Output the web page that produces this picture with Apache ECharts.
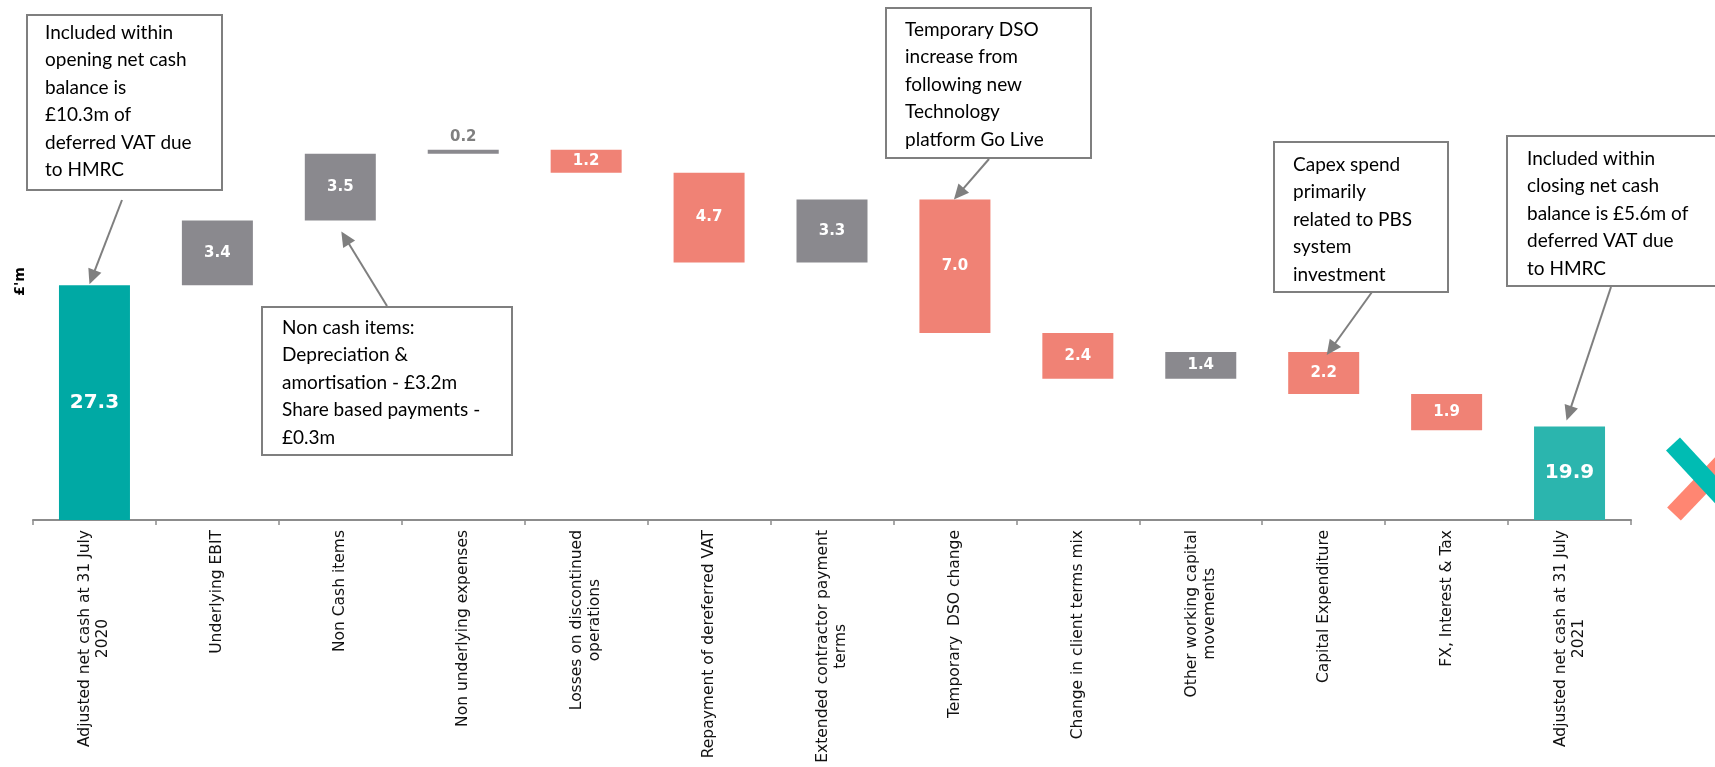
<!DOCTYPE html>
<html><head><meta charset="utf-8">
<script src="https://cdn.jsdelivr.net/npm/echarts@6/dist/echarts.min.js"></script>
<style>html,body{margin:0;padding:0;background:#fff}#c{width:1715px;height:767px}</style>
</head><body><div id="c"></div>
<script>
// ---- data ----
const categories = [
  'Adjusted net cash at 31 July\n2020',
  'Underlying EBIT',
  'Non Cash items',
  'Non underlying expenses',
  'Losses on discontinued\noperations',
  'Repayment of dereferred VAT',
  'Extended contractor payment\nterms',
  'Temporary  DSO change',
  'Change in client terms mix',
  'Other working capital\nmovements',
  'Capital Expenditure',
  'FX, Interest & Tax',
  'Adjusted net cash at 31 July\n2021'
];
const changes = [27.3, 3.4, 3.5, 0.2, -1.2, -4.7, 3.3, -7.0, -2.4, 1.4, -2.2, -1.9, 19.9];
const isTotal = [true, false, false, false, false, false, false, false, false, false, false, false, true];
const yMin = 15, yMax = 40;

const note1 = ['Included within', 'opening net cash', 'balance is', '£10.3m of', 'deferred VAT due', 'to HMRC'];
const note2 = ['Non cash items:', 'Depreciation &', 'amortisation - £3.2m', 'Share based payments -', '£0.3m'];
const note3 = ['Temporary DSO', 'increase from', 'following new', 'Technology', 'platform Go Live'];
const note4 = ['Capex spend', 'primarily', 'related to PBS', 'system', 'investment'];
const note5 = ['Included within', 'closing net cash', 'balance is £5.6m of', 'deferred VAT due', 'to HMRC'];

// ---- waterfall construction ----
const r1 = v => Math.round(v * 10) / 10;
const base = [], size = [];
let running = 0;
changes.forEach((v, i) => {
  if (isTotal[i]) { base.push(0); size.push(v); running = v; }
  else if (v >= 0) { base.push(r1(running)); size.push(v); running = r1(running + v); }
  else { running = r1(running + v); base.push(running); size.push(-v); }
});

const C_TOTAL_A = '#00A9A4', C_TOTAL_B = '#2BB5AE', C_UP = '#8A898E', C_DOWN = '#F08275';
const colorFor = i => isTotal[i] ? (i === 0 ? C_TOTAL_A : C_TOTAL_B) : (changes[i] >= 0 ? C_UP : C_DOWN);

const visible = size.map((v, i) => {
  const item = { value: v, itemStyle: { color: colorFor(i) } };
  if (isTotal[i]) item.label = { fontSize: 20 };
  else if (v < 0.5) item.label = { position: 'top', distance: 5, color: '#7F7F7F' };
  return item;
});

const chart = echarts.init(document.getElementById('c'), null, { renderer: 'canvas' });
chart.setOption({
  animation: false,
  backgroundColor: '#fff',
  grid: { left: 33, right: 84, top: 43, bottom: 247 },
  xAxis: {
    type: 'category',
    data: categories,
    axisLine: { lineStyle: { color: '#8C8C8C', width: 2 } },
    axisTick: { show: true, length: 5, lineStyle: { color: '#8C8C8C', width: 1.5 } },
    axisLabel: {
      rotate: 90, margin: 10, interval: 0,
      formatter: v => v.split('\n').map(s => '{c|' + s + '}').join('\n'),
      rich: { c: { align: 'center', fontFamily: 'DejaVu Sans', fontSize: 15.5, lineHeight: 18, color: '#111' } }
    }
  },
  yAxis: {
    type: 'value', min: yMin, max: yMax,
    axisLine: { show: false }, axisTick: { show: false }, axisLabel: { show: false }, splitLine: { show: false },
    name: "£'m", nameLocation: 'middle', nameGap: 6, nameRotate: 90,
    nameTextStyle: { fontWeight: 'bold', fontSize: 14, color: '#000', fontFamily: 'DejaVu Sans' }
  },
  series: [
    { type: 'bar', stack: 'w', data: base, barWidth: 71, itemStyle: { color: 'rgba(0,0,0,0)' }, silent: true },
    {
      type: 'bar', stack: 'w', data: visible, barWidth: 71,
      label: {
        show: true, position: 'inside', color: '#fff', fontWeight: 'bold', fontFamily: 'DejaVu Sans', fontSize: 15,
        formatter: p => Number(p.value).toFixed(1)
      }
    }
  ]
});

// ---- annotations (call-out boxes with arrows) ----
const notes = [
  { lines: note1, box: [27, 15, 195, 175], text: [45, 19], tail: [122, 200], at: [0, 27.3], off: [-5, -1] },
  { lines: note2, box: [262, 307, 250, 148], text: [282, 314], tail: [387, 306], at: [2, 30.7], off: [1, 11] },
  { lines: note3, box: [886, 8, 205, 150], text: [905, 16], tail: [989, 159], at: [7, 31.8], off: [-1, 0] },
  { lines: note4, box: [1274, 142, 174, 150], text: [1293, 151], tail: [1372, 292], at: [10, 23.8], off: [3, 3] },
  { lines: note5, box: [1507, 136, 212, 150], text: [1527, 145], tail: [1611, 287], at: [12, 19.9], off: [-3, -6] }
];
const graphics = [];
const AC = '#7F7F7F';
notes.forEach(n => {
  graphics.push({ type: 'rect', shape: { x: n.box[0], y: n.box[1], width: n.box[2], height: n.box[3] },
    style: { fill: '#fff', stroke: '#7F7F7F', lineWidth: 2 }, z: 100 });
  graphics.push({ type: 'text', x: n.text[0], y: n.text[1], z: 101,
    style: { text: n.lines.join('\n'), font: '19px Lato', fill: '#000', lineHeight: 27.5, verticalAlign: 'top' } });
  const p = chart.convertToPixel({ xAxisIndex: 0, yAxisIndex: 0 }, n.at);
  const tip = [p[0] + n.off[0], p[1] + n.off[1]];
  const dx = tip[0] - n.tail[0], dy = tip[1] - n.tail[1];
  const len = Math.sqrt(dx * dx + dy * dy), ux = dx / len, uy = dy / len;
  const L = 15, W = 7;
  const bx = tip[0] - ux * L, by = tip[1] - uy * L;
  graphics.push({ type: 'line', z: 100, shape: { x1: n.tail[0], y1: n.tail[1], x2: bx + ux * 2, y2: by + uy * 2 },
    style: { stroke: AC, lineWidth: 2 } });
  graphics.push({ type: 'polygon', z: 100, shape: { points: [tip, [bx - uy * W, by + ux * W], [bx + uy * W, by - ux * W]] },
    style: { fill: AC } });
});
// decorative logo mark at right edge
graphics.push({ type: 'line', z: 90, shape: { x1: 1674, y1: 514, x2: 1736, y2: 449 }, style: { stroke: '#FF8672', lineWidth: 19 } });
graphics.push({ type: 'line', z: 91, shape: { x1: 1673, y1: 444, x2: 1736, y2: 512 }, style: { stroke: '#00BCB3', lineWidth: 19 } });

chart.setOption({ graphic: graphics });
</script>
</body></html>
